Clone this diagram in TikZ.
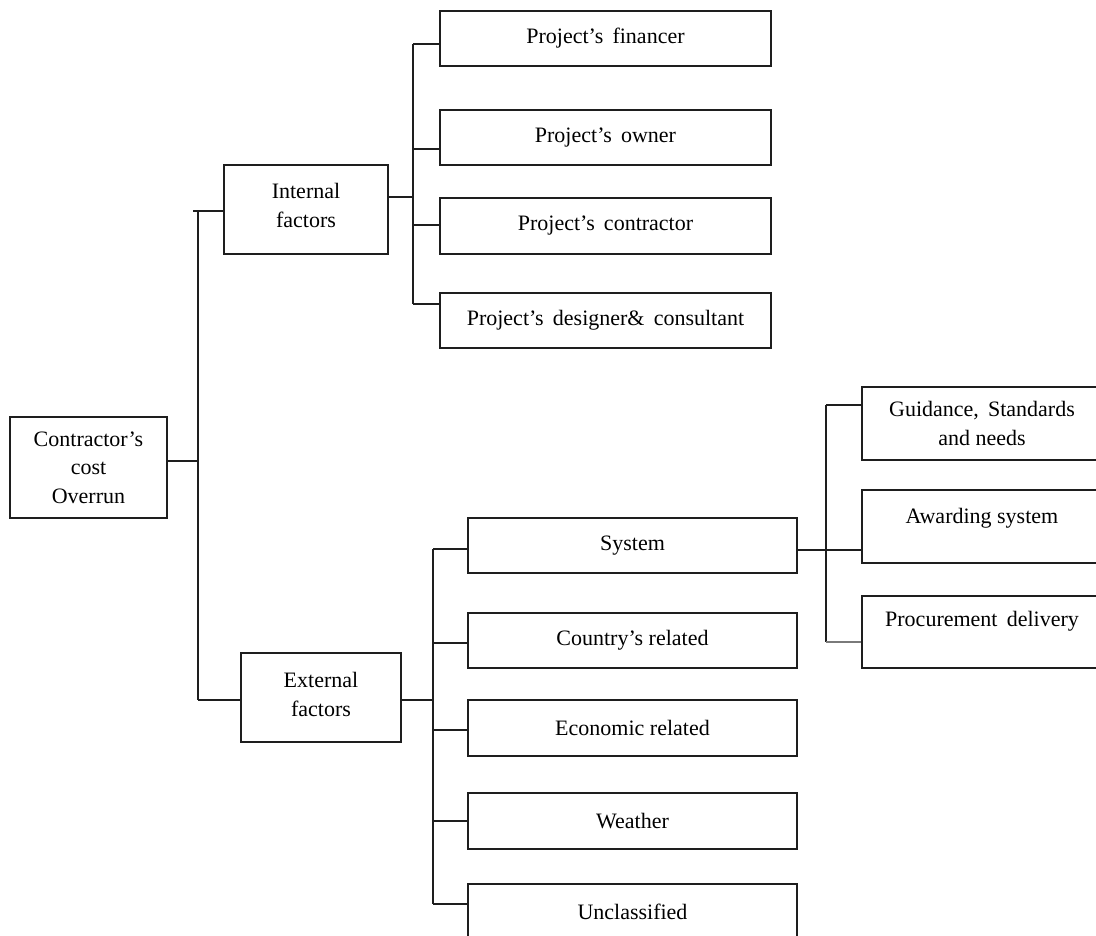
\documentclass[tikz,border=0pt]{standalone}
\usepackage{fontspec}
\setmainfont{Liberation Serif}
\definecolor{linec}{HTML}{1E1E1E}
\definecolor{lightc}{HTML}{7A7A7A}
\begin{document}
\begin{tikzpicture}[x=1pt,y=-1pt,
  box/.style={draw=linec, line width=1.6pt, inner sep=0pt, align=center,
    font=\fontsize{22}{28.5}\selectfont},
  conn/.style={draw=linec, line width=1.6pt},
  connlight/.style={draw=lightc, line width=1.6pt}]
\useasboundingbox (0,0) rectangle (1096,936);
\clip (0,0) rectangle (1096,936);
% boxes
\node[box, minimum width=157pt, minimum height=101pt] (root) at (88.5,467.5) {Contractor’s\\cost\\Overrun};
\node[box, minimum width=164pt, minimum height=89pt] (intl) at (306,209.5) {\raisebox{4pt}[\height][\depth]{Internal}\\\raisebox{4pt}[\height][\depth]{factors}};
\node[box, minimum width=160pt, minimum height=89pt] (extl) at (321,697.5) {\raisebox{3pt}[\height][\depth]{External}\\\raisebox{3pt}[\height][\depth]{factors}};
\node[box, minimum width=331pt, minimum height=55pt] (fin) at (605.5,38.5) {Project’s\, financer};
\node[box, minimum width=331pt, minimum height=55pt] (own) at (605.5,137.5) {Project’s\, owner};
\node[box, minimum width=331pt, minimum height=56pt] (con) at (605.5,226) {Project’s\, contractor};
\node[box, minimum width=331pt, minimum height=55pt] (des) at (605.5,320.5) {Project’s\, designer\&\, consultant};
\node[box, minimum width=329pt, minimum height=55pt] (sys) at (632.5,545.5) {System};
\node[box, minimum width=329pt, minimum height=55pt] (cty) at (632.5,640.5) {Country’s related};
\node[box, minimum width=329pt, minimum height=56pt] (eco) at (632.5,728) {Economic related};
\node[box, minimum width=329pt, minimum height=56pt] (wea) at (632.5,821) {Weather};
\node[box, minimum width=329pt, minimum height=56pt] (unc) at (632.5,912) {Unclassified};
\node[box, minimum width=240pt, minimum height=73pt] (gui) at (982,423.5) {Guidance,\, Standards\\and needs};
\node[box, minimum width=240pt, minimum height=73pt] (awd) at (982,526.5) {\raisebox{8pt}[\height][\depth]{Awarding system}};
\node[box, minimum width=240pt, minimum height=72pt] (pro) at (982,632) {\raisebox{11pt}[\height][\depth]{Procurement\, delivery}};
% root trunk
\coordinate (tT) at (198,211);
\coordinate (tS) at (193,211);
\coordinate (tM) at (198,461);
\coordinate (tB) at (198,700);
\draw[conn] (tT) -- (tB);
\draw[conn] (root.east |- tM) -- (tM);
\draw[conn] (tS) -- (intl.west |- tS);
\draw[conn] (tB) -- (extl.west |- tB);
% internal bus
\coordinate (iJ) at (413,197);
\coordinate (i1) at (413,44);
\coordinate (i2) at (413,149);
\coordinate (i3) at (413,225);
\coordinate (i4) at (413,304);
\draw[conn] (intl.east |- iJ) -- (iJ);
\draw[conn] (i1) -- (i4);
\draw[conn] (i1) -- (fin.west |- i1);
\draw[conn] (i2) -- (own.west |- i2);
\draw[conn] (i3) -- (con.west |- i3);
\draw[conn] (i4) -- (des.west |- i4);
% external bus
\coordinate (eJ) at (433,700);
\coordinate (e1) at (433,549);
\coordinate (e2) at (433,643);
\coordinate (e3) at (433,730);
\coordinate (e4) at (433,821);
\coordinate (e5) at (433,904);
\draw[conn] (extl.east |- eJ) -- (eJ);
\draw[conn] (e1) -- (e5);
\draw[conn] (e1) -- (sys.west |- e1);
\draw[conn] (e2) -- (cty.west |- e2);
\draw[conn] (e3) -- (eco.west |- e3);
\draw[conn] (e4) -- (wea.west |- e4);
\draw[conn] (e5) -- (unc.west |- e5);
% system bus
\coordinate (s1) at (826,405);
\coordinate (sM) at (826,550);
\coordinate (s3) at (826,642);
\draw[conn] (sys.east |- sM) -- (awd.west |- sM);
\draw[conn] (s1) -- (s3);
\draw[conn] (s1) -- (gui.west |- s1);
\draw[connlight] (s3) -- (pro.west |- s3);
\end{tikzpicture}
\end{document}
